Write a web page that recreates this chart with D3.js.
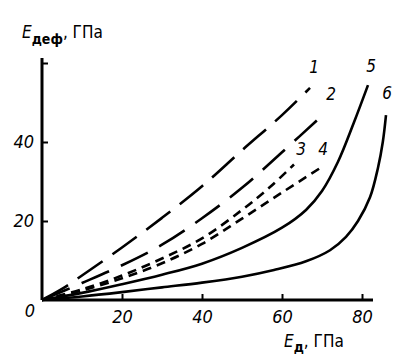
<!DOCTYPE html>
<html>
<head>
<meta charset="utf-8">
<script src="https://cdn.jsdelivr.net/npm/d3@7"></script>
<style>
    body { margin: 0; background: #fff; }
    svg text { font-family: "Liberation Sans Narrow", "DejaVu Sans Condensed", sans-serif; fill: #000; }
</style>
</head>
<body>
<div id="chart"></div>
<script>
// curves: [E_d, E_def] in GPa
const curve1 = [[0,0],[5,2.8],[10,6.2],[20,13.3],[30,20.8],[40,28.8],[50,37.9],[60,46.8],[67,53.7]];
const curve2 = [[0,0],[10,4.3],[20,8.8],[30,14],[40,20.7],[50,28.4],[60,37.4],[71,47.6]];
const curve3 = [[0,0],[10,2.7],[20,6.2],[30,10.5],[40,15.6],[50,22.8],[57,28.6],[63,34.3]];
const curve4 = [[0,0],[10,2.4],[20,5.5],[30,9.3],[40,14.2],[50,20.6],[60,27.2],[70,33.7]];
const curve5 = [[0,0],[10,1.8],[20,4],[30,6.4],[40,9.2],[50,13.2],[60,18.3],[66,22.8],[70,27.6],[74,35],[78,45],[81.5,54.4]];
const curve6 = [[0,0],[10,0.9],[20,2],[30,3.2],[40,4.4],[50,5.9],[58,7.6],[66,9.8],[72,12.6],[76,16],[79,20],[82,26],[84,33.5],[85.2,40],[86,46.8]];

const curveNames = ["1", "2", "3", "4", "5", "6"];
const xTicks = [20, 40, 60, 80];
const yTicks = [20, 40, 60];

let width = 417, height = 363;

let svg = d3.select("#chart")
    .append("svg")
    .attr("width", width)
    .attr("height", height);

let x = d3.scaleLinear().domain([0, 80]).range([42, 362]);
let y = d3.scaleLinear().domain([0, 60]).range([300, 63]);

// dash styles per curve
const styles = [
    { dash: "30,12" },
    { dash: "30,13" },
    { dash: "9,6" },
    { dash: "9,6" },
    { dash: null },
    { dash: null }
];

// label positions (data coords)
const labelPos = [[68,57.4],[72.3,50.6],[64.8,36.7],[70.3,36.7],[82.3,57.7],[86.3,50.8]];

let line = d3.line()
    .x(d => x(d[0]))
    .y(d => y(d[1]))
    .curve(d3.curveCatmullRom.alpha(0.5));

const curves = [curve1, curve2, curve3, curve4, curve5, curve6];

svg.append("g")
    .selectAll("path")
    .data(curves)
    .enter()
    .append("path")
    .attr("d", line)
    .attr("fill", "none")
    .attr("stroke", "#000")
    .attr("stroke-width", 2.6)
    .attr("stroke-dasharray", (d, i) => styles[i].dash);

// axes
let xAxis = svg.append("g")
    .attr("transform", "translate(0," + y(0) + ")")
    .call(d3.axisBottom(x).tickValues(xTicks).tickSize(-6).tickPadding(10));

let yAxis = svg.append("g")
    .attr("transform", "translate(" + x(0) + ",0)")
    .call(d3.axisLeft(y).tickValues(yTicks).tickSize(-6).tickPadding(8)
        .tickFormat(d => d == 60 ? "" : d));

xAxis.select(".domain").attr("d", "M" + x(0) + ",0H373");
yAxis.select(".domain").attr("d", "M0," + y(0) + "V58");

svg.selectAll(".domain").attr("stroke", "#000").attr("stroke-width", 3);
svg.selectAll(".tick line").attr("stroke", "#000").attr("stroke-width", 2);
svg.selectAll(".tick text")
    .style("font-size", "18px")
    .style("font-style", "italic")
    .style("font-family", "'Liberation Sans Narrow', 'DejaVu Sans Condensed', sans-serif");

// origin label
svg.append("text")
    .attr("x", 30).attr("y", 317)
    .attr("text-anchor", "middle")
    .style("font-size", "18px")
    .style("font-style", "italic")
    .text("0");

// curve numbers
svg.append("g")
    .selectAll("text")
    .data(curveNames)
    .enter()
    .append("text")
    .attr("x", (d, i) => x(labelPos[i][0]))
    .attr("y", (d, i) => y(labelPos[i][1]))
    .attr("text-anchor", "middle")
    .style("font-size", "17px")
    .style("font-style", "italic")
    .text(d => d);

// axis titles
let yTitle = svg.append("text")
    .attr("x", 22).attr("y", 38)
    .style("font-size", "17px");
yTitle.append("tspan").style("font-style", "italic").text("E");
yTitle.append("tspan").attr("dy", 6).style("font-size", "14px").style("font-weight", "bold").text("деф");
yTitle.append("tspan").attr("dy", -6).text(", ГПа");

let xTitle = svg.append("text")
    .attr("x", 284).attr("y", 347)
    .style("font-size", "17px");
xTitle.append("tspan").style("font-style", "italic").text("E");
xTitle.append("tspan").attr("dy", 5).style("font-size", "14px").style("font-weight", "bold").text("д");
xTitle.append("tspan").attr("dy", -5).text(", ГПа");
</script>
</body>
</html>
